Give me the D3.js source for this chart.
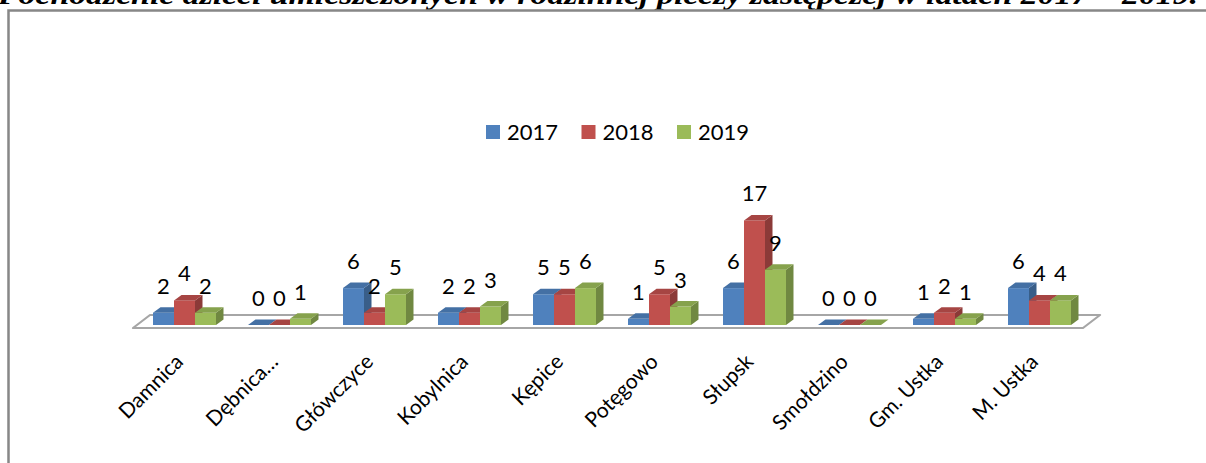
<!DOCTYPE html>
<html>
<head>
<meta charset="utf-8">
<script src="https://cdn.jsdelivr.net/npm/d3@7"></script>
<style>
  body { margin: 0; background: #fff; }
  svg { display: block; }
</style>
</head>
<body>
<div id="chart"></div>
<script>
// chart data
var categories = ["Damnica", "Dębnica…", "Główczyce", "Kobylnica", "Kępice",
  "Potęgowo", "Słupsk", "Smołdzino", "Gm. Ustka", "M. Ustka"];
var years = ["2017", "2018", "2019"];
var values2017 = [2, 0, 6, 2, 5, 1, 6, 0, 1, 6];
var values2018 = [4, 0, 2, 2, 5, 5, 17, 0, 2, 4];
var values2019 = [2, 1, 5, 3, 6, 3, 9, 0, 1, 4];
var colors = ["#4F81BD", "#C0504D", "#9BBB59"];
var titleText = "Pochodzenie dzieci umieszczonych w rodzinnej pieczy zastępczej w latach 2017 – 2019.";

var width = 1206,
  height = 463,
  floorFront = 328,
  floorDx = 17,
  floorDy = 13,
  barBase = 325,
  barDx = 7.5,
  barDy = 5.5,
  font = "Lato, 'Open Sans', sans-serif";

var series = [values2017, values2018, values2019];

var svg = d3.select("#chart").append("svg")
  .attr("width", width)
  .attr("height", height);

// clipped title from the page above the chart
svg.append("text")
  .attr("x", -2)
  .attr("y", 4)
  .attr("textLength", 1200)
  .attr("lengthAdjust", "spacingAndGlyphs")
  .style("font-family", "'Liberation Serif', 'Times New Roman', serif")
  .style("font-weight", "bold")
  .style("font-style", "italic")
  .style("font-size", "27px")
  .text(titleText);

// chart frame (right and bottom edges are outside the picture)
svg.append("rect")
  .attr("x", 8.5)
  .attr("y", 10.5)
  .attr("width", 1300)
  .attr("height", 600)
  .attr("fill", "none")
  .attr("stroke", "#878787")
  .attr("stroke-width", 2.5);

var x = d3.scaleBand()
  .domain(categories)
  .range([137, 1087])
  .paddingInner(0.337)
  .paddingOuter(0.337 / 2);

var xs = d3.scaleBand()
  .domain(years)
  .range([0, x.bandwidth()]);

var y = d3.scaleLinear()
  .domain([0, 20])
  .range([barBase, barBase - 123]);

// floor
var fx0 = x.range()[0] - 4,
  fx1 = x.range()[1] - 4;
svg.append("path")
  .attr("d", "M" + fx0 + "," + floorFront +
    "L" + fx1 + "," + floorFront +
    "L" + (fx1 + floorDx) + "," + (floorFront - floorDy) +
    "L" + (fx0 + floorDx) + "," + (floorFront - floorDy) + "Z")
  .attr("fill", "#fff")
  .attr("stroke", "#a6a6a6")
  .attr("stroke-width", 2.2)
  .attr("stroke-linejoin", "round");

// bars, drawn left to right so nearer faces cover the sides
var bars = [];
categories.forEach(function (c, i) {
  years.forEach(function (yr, j) {
    bars.push({ cat: c, year: yr, value: series[j][i], color: colors[j] });
  });
});

var g = svg.append("g").attr("class", "bars");

bars.forEach(function (d) {
  var x0 = x(d.cat) + xs(d.year),
    x1 = x0 + xs.bandwidth(),
    yTop = y(d.value),
    col = d3.color(d.color);

  // right side
  if (d.value > 0) {
    g.append("path")
      .attr("d", "M" + x1 + "," + barBase + "L" + x1 + "," + yTop +
        "L" + (x1 + barDx) + "," + (yTop - barDy) +
        "L" + (x1 + barDx) + "," + (barBase - barDy) + "Z")
      .attr("fill", col.darker(0.9));
    // front
    g.append("rect")
      .attr("x", x0)
      .attr("y", yTop)
      .attr("width", x1 - x0)
      .attr("height", barBase - yTop)
      .attr("fill", d.color);
  }
  // top
  g.append("path")
    .attr("d", "M" + x0 + "," + yTop + "L" + x1 + "," + yTop +
      "L" + (x1 + barDx) + "," + (yTop - barDy) +
      "L" + (x0 + barDx) + "," + (yTop - barDy) + "Z")
    .attr("fill", col.darker(0.4));
});

// value labels
svg.append("g").selectAll("text")
  .data(bars)
  .enter()
  .append("text")
  .attr("x", function (d) { return x(d.cat) + xs(d.year) + xs.bandwidth() / 2; })
  .attr("y", function (d) { return y(d.value) - 19; })
  .attr("text-anchor", "middle")
  .style("font-family", font)
  .style("font-size", "22px")
  .style("fill", "#000")
  .text(function (d) { return d.value; });

// category labels
svg.append("g").selectAll("text")
  .data(categories)
  .enter()
  .append("text")
  .attr("transform", function (d) {
    return "translate(" + (x(d) + x.bandwidth() / 2) + ",363) rotate(-45)";
  })
  .attr("text-anchor", "end")
  .style("font-family", font)
  .style("font-size", "21px")
  .style("fill", "#000")
  .text(function (d) { return d; });

// legend
var legend = svg.append("g").selectAll("g")
  .data(years)
  .enter()
  .append("g")
  .attr("transform", function (d, i) { return "translate(" + (486 + i * 95.5) + ",125)"; });

legend.append("rect")
  .attr("width", 14)
  .attr("height", 14)
  .attr("fill", function (d, i) { return colors[i]; });

legend.append("text")
  .attr("x", 21)
  .attr("y", 14.5)
  .style("font-family", font)
  .style("font-size", "22px")
  .text(function (d) { return d; });
</script>
</body>
</html>
